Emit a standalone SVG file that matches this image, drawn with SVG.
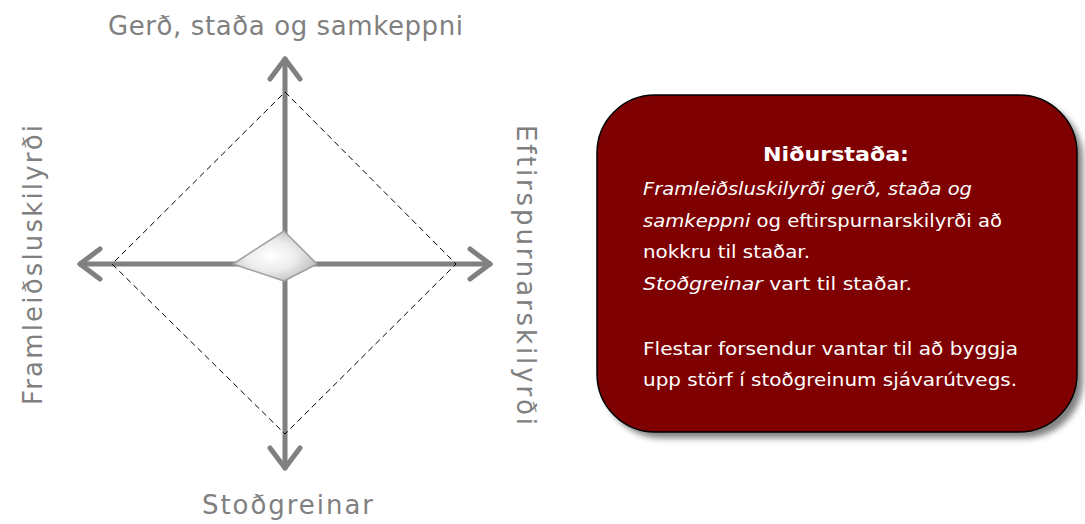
<svg xmlns="http://www.w3.org/2000/svg" width="1085" height="524" viewBox="0 0 1085 524">
<style>
.axis{fill:none;stroke:#808080;stroke-width:5;stroke-linecap:round;stroke-linejoin:round}
.dash{fill:none;stroke:#000;stroke-width:1;stroke-dasharray:6 4}
.lbl{font-family:"Comic Sans MS","DejaVu Sans",sans-serif;font-size:26px;fill:#808080}
.body{font-family:"Comic Sans MS","DejaVu Sans",sans-serif;font-size:17px;fill:#fff}
.title{font-family:"Comic Sans MS","DejaVu Sans",sans-serif;font-size:20px;font-weight:bold;fill:#fff}
.it{font-style:italic}
</style>
<defs>
<marker id="chev" markerUnits="userSpaceOnUse" viewBox="-30 -20 34 40" refX="0" refY="0" markerWidth="34" markerHeight="40" orient="auto-start-reverse" overflow="visible">
<path d="M-20,-15 L0,0 L-20,15" fill="none" stroke="#808080" stroke-width="5" stroke-linecap="round" stroke-linejoin="round"/>
</marker>
<radialGradient id="kiteg" cx="0.45" cy="0.5" r="0.6">
<stop offset="0" stop-color="#ffffff"/>
<stop offset="0.5" stop-color="#ececec"/>
<stop offset="1" stop-color="#b8b8b8"/>
</radialGradient>
<filter id="shadow" x="-10%" y="-10%" width="125%" height="125%">
<feGaussianBlur stdDeviation="3"/>
</filter>
</defs>
<rect width="1085" height="524" fill="#fff"/>
<g id="connectors">
<line class="axis" x1="285" y1="468" x2="285" y2="59" marker-start="url(#chev)" marker-end="url(#chev)"/>
<line class="axis" x1="80" y1="264" x2="490" y2="264" marker-start="url(#chev)" marker-end="url(#chev)"/>
<polygon class="dash" points="285,92 456,264 285,434 112,264"/>
</g>
<g id="center">
<polygon points="233,264 284,231 317,264 284,281" fill="url(#kiteg)" stroke="#a0a0a0" stroke-width="1.5" stroke-linejoin="round"/>
</g>
<g id="label-top"><text class="lbl" x="108" y="35" textLength="355" lengthAdjust="spacing">Gerð, staða og samkeppni</text></g>
<g id="label-bottom"><text class="lbl" x="202" y="514" textLength="171" lengthAdjust="spacing">Stoðgreinar</text></g>
<g id="label-left"><text class="lbl" transform="translate(42,405) rotate(-90)" x="0" y="0" textLength="280" lengthAdjust="spacing">Framleiðsluskilyrði</text></g>
<g id="label-right"><text class="lbl" transform="translate(517,125) rotate(90)" x="0" y="0" textLength="300" lengthAdjust="spacing">Eftirspurnarskilyrði</text></g>
<g id="result">
<rect x="603" y="101" width="480" height="337" rx="58" fill="#555" opacity="0.75" filter="url(#shadow)"/>
<rect x="597" y="95" width="480" height="337" rx="58" fill="#7f0000" stroke="#000" stroke-width="1.5"/>
<text class="title" x="763" y="161" textLength="146" lengthAdjust="spacingAndGlyphs">Niðurstaða:</text>
<text class="body it" x="643" y="195" textLength="329" lengthAdjust="spacingAndGlyphs">Framleiðsluskilyrði gerð, staða og</text>
<text class="body" x="643" y="227" textLength="359" lengthAdjust="spacingAndGlyphs"><tspan class="it">samkeppni</tspan> og eftirspurnarskilyrði að</text>
<text class="body" x="643" y="258" textLength="167" lengthAdjust="spacingAndGlyphs">nokkru til staðar.</text>
<text class="body" x="643" y="290" textLength="269" lengthAdjust="spacingAndGlyphs"><tspan class="it">Stoðgreinar</tspan> vart til staðar.</text>
<text class="body" x="643" y="355" textLength="375" lengthAdjust="spacingAndGlyphs">Flestar forsendur vantar til að byggja</text>
<text class="body" x="643" y="386" textLength="374" lengthAdjust="spacingAndGlyphs">upp störf í stoðgreinum sjávarútvegs.</text>
</g>
</svg>
